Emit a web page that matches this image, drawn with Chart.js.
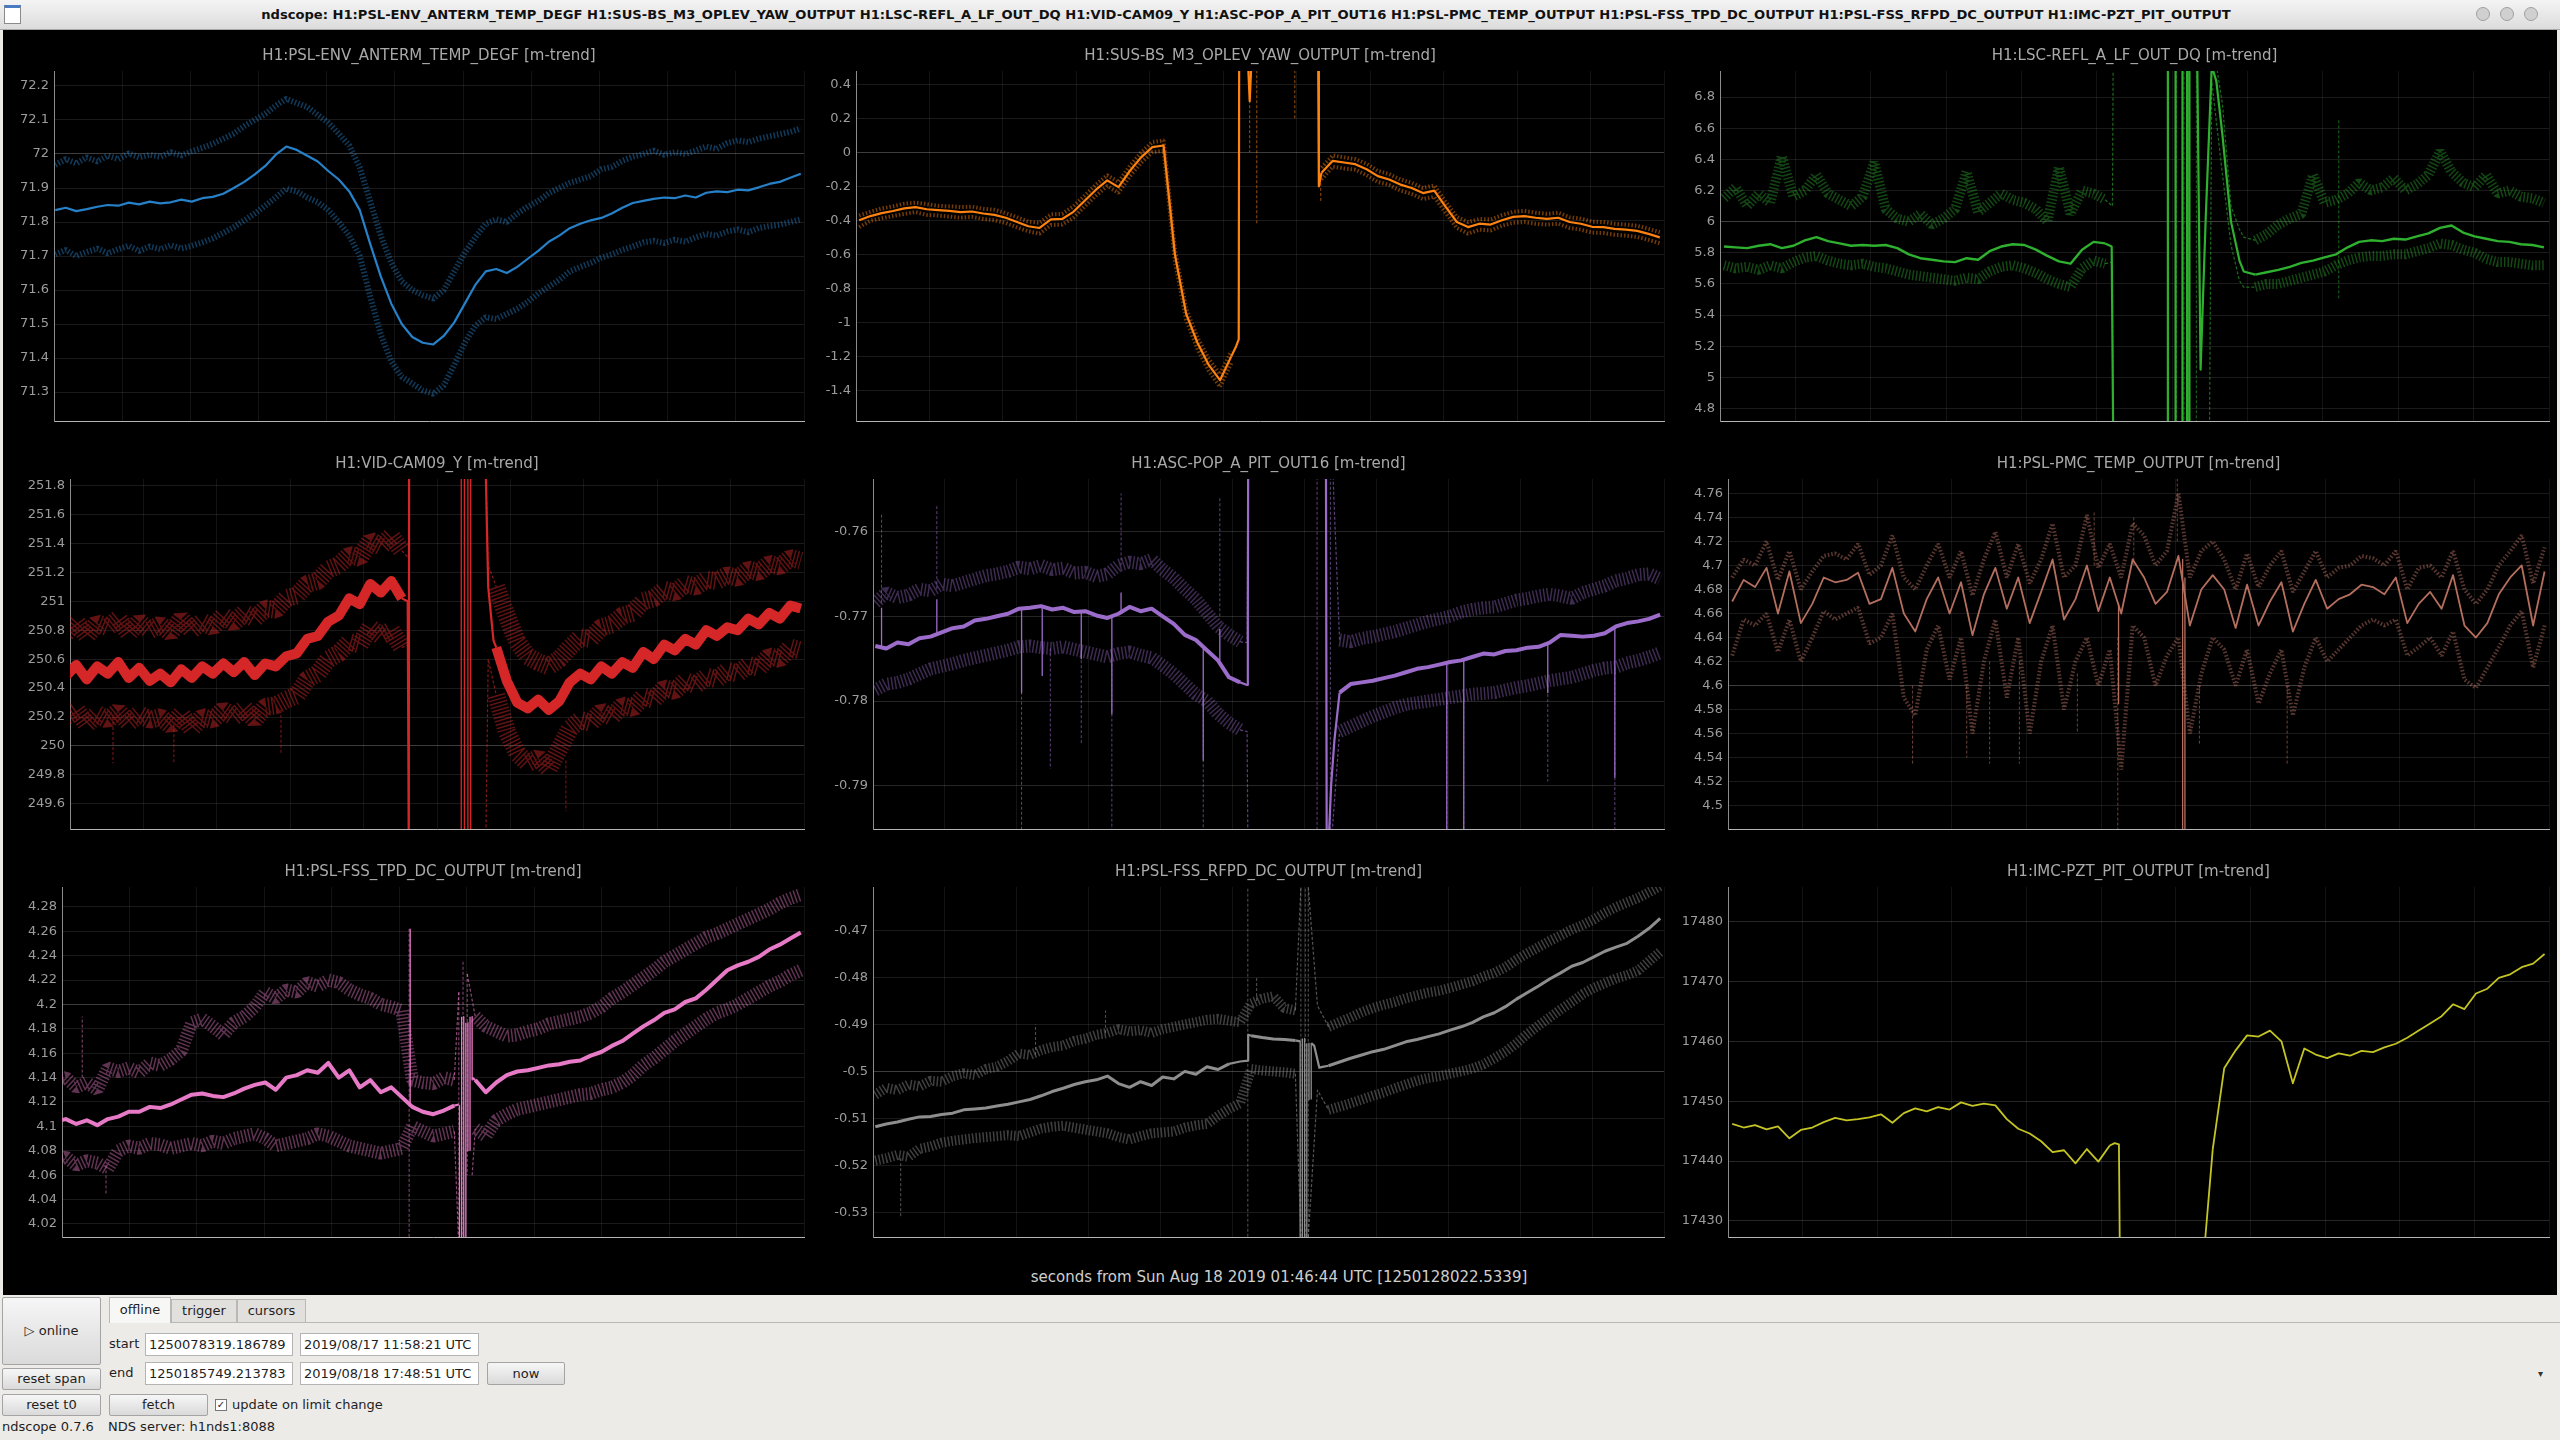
<!DOCTYPE html>
<html>
<head>
<meta charset="utf-8">
<title>ndscope</title>
<script src="https://cdn.jsdelivr.net/npm/chart.js@4.4.0/dist/chart.umd.min.js"></script>
<style>
  body { margin: 0; width: 2560px; height: 1440px; overflow: hidden; position: relative;
         background: #edebe8; font-family: 'DejaVu Sans', sans-serif; font-size: 13px; color: #1e1e1e; }
  .abs { position: absolute; }
  #titlebar { left: 0; top: 0; width: 2560px; height: 29px; background: linear-gradient(#f4f4f4, #dcdcdc);
              border-bottom: 1px solid #a9a9a9; }
  #titletext { left: 0; top: 0; width: 2492px; height: 29px; line-height: 29px; text-align: center;
               font-weight: bold; font-size: 13.1px; color: #111; white-space: nowrap; }
  #scope { left: 3px; top: 30px; width: 2554px; height: 1265px; background: #000; }
  #xlabel { left: 0; top: 1268px; width: 2558px; text-align: center; font-size: 15px; color: #cfcfcf; }
  .btn { background: linear-gradient(#f6f6f6, #dadada); border: 1px solid #a4a4a4; border-radius: 2px;
         text-align: center; box-sizing: border-box; }
  .inp { background: #fff; border: 1px solid #b4b4b4; box-sizing: border-box; padding-left: 3px; }
  .tab { border: 1px solid #b8b8b8; border-bottom: none; box-sizing: border-box; text-align: center;
         background: #e2e0dd; }
</style>
</head>
<body>
<div id="titlebar" class="abs"></div>
<div class="abs" style="left:4px;top:5px;width:17px;height:19px;border:1px solid #8a8a8a;background:#fff;box-sizing:border-box;border-top:3px solid #4a7bc0;"></div>
<div id="titletext" class="abs">ndscope: H1:PSL-ENV_ANTERM_TEMP_DEGF H1:SUS-BS_M3_OPLEV_YAW_OUTPUT H1:LSC-REFL_A_LF_OUT_DQ H1:VID-CAM09_Y H1:ASC-POP_A_PIT_OUT16 H1:PSL-PMC_TEMP_OUTPUT H1:PSL-FSS_TPD_DC_OUTPUT H1:PSL-FSS_RFPD_DC_OUTPUT H1:IMC-PZT_PIT_OUTPUT</div>
<div class="abs" style="left:2476px;top:7px;width:14px;height:14px;border-radius:7px;background:#d0d0d0;border:1px solid #a0a0a0;box-sizing:border-box;"></div>
<div class="abs" style="left:2500px;top:7px;width:14px;height:14px;border-radius:7px;background:#d0d0d0;border:1px solid #a0a0a0;box-sizing:border-box;"></div>
<div class="abs" style="left:2524px;top:7px;width:14px;height:14px;border-radius:7px;background:#d0d0d0;border:1px solid #a0a0a0;box-sizing:border-box;"></div>
<div id="scope" class="abs"></div>
<div id="xlabel" class="abs">seconds from Sun Aug 18 2019 01:46:44 UTC [1250128022.5339]</div>

<div class="abs btn" style="left:2px;top:1297px;width:99px;height:68px;line-height:66px;">&#9655; online</div>
<div class="abs btn" style="left:2px;top:1368px;width:99px;height:22px;line-height:20px;">reset span</div>
<div class="abs btn" style="left:2px;top:1394px;width:99px;height:22px;line-height:20px;">reset t0</div>
<div class="abs" style="left:109px;top:1322px;width:2451px;height:1px;background:#b8b8b8;"></div>
<div class="abs tab" style="left:109px;top:1297px;width:62px;height:26px;line-height:24px;background:#f7f7f6;">offline</div>
<div class="abs tab" style="left:171px;top:1299px;width:66px;height:23px;line-height:22px;">trigger</div>
<div class="abs tab" style="left:237px;top:1299px;width:69px;height:23px;line-height:22px;">cursors</div>
<div class="abs" style="left:109px;top:1336px;">start</div>
<div class="abs inp" style="left:145px;top:1333px;width:148px;height:23px;line-height:21px;">1250078319.186789</div>
<div class="abs inp" style="left:300px;top:1333px;width:179px;height:23px;line-height:21px;">2019/08/17 11:58:21 UTC</div>
<div class="abs" style="left:109px;top:1365px;">end</div>
<div class="abs inp" style="left:145px;top:1362px;width:148px;height:23px;line-height:21px;">1250185749.213783</div>
<div class="abs inp" style="left:300px;top:1362px;width:179px;height:23px;line-height:21px;">2019/08/18 17:48:51 UTC</div>
<div class="abs btn" style="left:487px;top:1362px;width:78px;height:23px;line-height:21px;">now</div>
<div class="abs btn" style="left:109px;top:1394px;width:99px;height:22px;line-height:20px;">fetch</div>
<div class="abs" style="left:215px;top:1399px;width:12px;height:12px;border:1px solid #777;background:#fff;box-sizing:border-box;font-size:10px;line-height:10px;text-align:center;">&#10003;</div>
<div class="abs" style="left:232px;top:1397px;">update on limit change</div>
<div class="abs" style="left:2px;top:1419px;">ndscope 0.7.6</div>
<div class="abs" style="left:108px;top:1419px;">NDS server: h1nds1:8088</div>
<div class="abs" style="left:2538px;top:1368px;font-size:10px;color:#333;">&#9662;</div>

<script>
// shared minute-trend sample times (s from t0)
const tGrid = [
  -53250, -51750, -50250, -48750, -47250, -45750, -44250, -42750, -41250, -39750,
  -38250, -36750, -35250, -33750, -32250, -30750, -29250, -27750, -26250, -24750,
  -23250, -21750, -20250, -18750, -17250, -15750, -14250, -12750, -11250, -9750,
  -8250, -6750, -5250, -3750, -2250, -750, 750, 2250, 3750, 5250,
  6750, 8250, 9750, 11250, 12750, 14250, 15750, 17250, 18750, 20250,
  21750, 23250, 24750, 26250, 27750, 29250, 30750, 32250, 33750, 35250,
  36750, 38250, 39750, 41250, 42750, 44250, 45750, 47250, 48750, 50250,
  51750, 53250];

// H1:PSL-ENV_ANTERM_TEMP_DEGF
const anterMean = [
  71.835, 71.842, 71.832, 71.838, 71.845, 71.850, 71.848, 71.857, 71.852, 71.860,
  71.855, 71.858, 71.866, 71.860, 71.870, 71.874, 71.883, 71.900, 71.918, 71.940,
  71.965, 71.998, 72.022, 72.012, 71.995, 71.978, 71.950, 71.925, 71.890, 71.835,
  71.735, 71.640, 71.560, 71.500, 71.462, 71.445, 71.440, 71.465, 71.505, 71.560,
  71.615, 71.655, 71.662, 71.650, 71.668, 71.692, 71.715, 71.742, 71.760, 71.782,
  71.795, 71.805, 71.812, 71.825, 71.842, 71.856, 71.862, 71.868, 71.872, 71.870,
  71.878, 71.872, 71.886, 71.890, 71.888, 71.895, 71.893, 71.902, 71.912, 71.918,
  71.930, 71.942];
const anterMax = [
  71.968, 71.985, 71.972, 71.990, 71.978, 71.995, 71.985, 72.002, 71.990, 71.998,
  71.992, 72.005, 71.996, 72.008, 72.018, 72.030, 72.045, 72.060, 72.082, 72.100,
  72.118, 72.142, 72.162, 72.150, 72.138, 72.115, 72.092, 72.060, 72.025, 71.960,
  71.860, 71.760, 71.680, 71.625, 71.600, 71.585, 71.575, 71.600, 71.655, 71.710,
  71.755, 71.795, 71.808, 71.800, 71.825, 71.845, 71.862, 71.885, 71.900, 71.915,
  71.925, 71.935, 71.955, 71.962, 71.980, 71.992, 72.000, 72.010, 71.998, 72.005,
  72.000, 72.010, 72.022, 72.015, 72.032, 72.040, 72.035, 72.045, 72.052, 72.058,
  72.065, 72.075];
const anterMin = [
  71.705, 71.718, 71.700, 71.712, 71.722, 71.708, 71.720, 71.730, 71.715, 71.728,
  71.720, 71.732, 71.722, 71.730, 71.740, 71.752, 71.768, 71.785, 71.805, 71.825,
  71.848, 71.872, 71.898, 71.890, 71.872, 71.858, 71.835, 71.800, 71.760, 71.700,
  71.580, 71.470, 71.390, 71.345, 71.325, 71.305, 71.295, 71.320, 71.380, 71.445,
  71.495, 71.520, 71.515, 71.530, 71.545, 71.565, 71.590, 71.610, 71.630, 71.655,
  71.668, 71.680, 71.695, 71.705, 71.718, 71.728, 71.740, 71.745, 71.738, 71.748,
  71.742, 71.755, 71.765, 71.760, 71.772, 71.778, 71.770, 71.782, 71.788, 71.792,
  71.800, 71.808];

// H1:SUS-BS_M3_OPLEV_YAW_OUTPUT
const yawMean = [
  -0.400, -0.375, -0.358, -0.345, -0.330, -0.322, -0.335, -0.340, -0.345, -0.352,
  -0.348, -0.360, -0.368, -0.385, -0.410, -0.435, -0.445, -0.395, -0.392, -0.350,
  -0.285, -0.220, -0.165, -0.205, -0.110, -0.030, 0.030, 0.040, -0.600, -0.950,
  -1.120, -1.250, -1.340, -1.200, null, null, null, null, null, null,
  null, -0.120, -0.050, -0.060, -0.070, -0.100, -0.140, -0.160, -0.190, -0.210,
  -0.240, -0.225, -0.320, -0.410, -0.440, -0.420, -0.425, -0.400, -0.380, -0.375,
  -0.385, -0.392, -0.385, -0.410, -0.420, -0.438, -0.440, -0.450, -0.455, -0.462,
  -0.480, -0.500];
const yawMax = [
  -0.372, -0.350, -0.330, -0.318, -0.302, -0.296, -0.305, -0.315, -0.318, -0.322,
  -0.320, -0.332, -0.338, -0.358, -0.382, -0.408, -0.415, -0.365, -0.362, -0.318,
  -0.255, -0.190, -0.135, -0.175, -0.080, -0.002, 0.060, 0.070, -0.570, -0.920,
  -1.090, -1.215, -1.305, -1.170, null, null, null, null, null, null,
  null, -0.090, -0.018, -0.030, -0.040, -0.068, -0.110, -0.128, -0.160, -0.180,
  -0.210, -0.195, -0.290, -0.380, -0.410, -0.392, -0.395, -0.370, -0.350, -0.345,
  -0.355, -0.362, -0.355, -0.382, -0.390, -0.408, -0.410, -0.420, -0.425, -0.432,
  -0.450, -0.470];
const yawMin = [
  -0.440, -0.402, -0.388, -0.375, -0.362, -0.352, -0.368, -0.372, -0.378, -0.385,
  -0.380, -0.392, -0.400, -0.415, -0.442, -0.465, -0.478, -0.428, -0.425, -0.385,
  -0.318, -0.255, -0.198, -0.238, -0.142, -0.062, 0.000, 0.010, -0.640, -0.985,
  -1.155, -1.285, -1.380, -1.240, null, null, null, null, null, null,
  null, -0.160, -0.085, -0.095, -0.102, -0.135, -0.175, -0.192, -0.225, -0.245,
  -0.275, -0.262, -0.355, -0.445, -0.478, -0.455, -0.460, -0.432, -0.415, -0.410,
  -0.420, -0.425, -0.420, -0.445, -0.455, -0.472, -0.475, -0.485, -0.490, -0.498,
  -0.515, -0.535];
const yawEdgeT = [-3750, -3100, -2760, -2700, -2700, -1600, -1300, -1000, -1000, 7800, 7900, 8250];
const yawEdgeY = [-1.200, -1.140, -1.100, 0.600, null, 0.600, 0.300, 0.600, null, 0.600, -0.200, -0.120];
const yawDashT = [-1300, -360, 4700, 8150];
const yawDashFrom = [0.600, 0.600, 0.600, -0.180];
const yawDashTo = [0.000, -0.420, 0.200, -0.290];

// H1:LSC-REFL_A_LF_OUT_DQ
const reflMean = [
  5.840, 5.835, 5.830, 5.845, 5.855, 5.830, 5.845, 5.880, 5.900, 5.875,
  5.860, 5.845, 5.850, 5.845, 5.850, 5.830, 5.790, 5.765, 5.755, 5.745,
  5.740, 5.765, 5.755, 5.810, 5.840, 5.855, 5.850, 5.820, 5.780, 5.745,
  5.730, 5.820, 5.870, 5.860, null, null, null, null, null, null,
  null, null, null, null, null, null, 5.660, 5.675, 5.690, 5.710,
  5.735, 5.750, 5.770, 5.790, 5.835, 5.870, 5.880, 5.875, 5.890, 5.885,
  5.905, 5.925, 5.960, 5.975, 5.930, 5.905, 5.890, 5.875, 5.870, 5.855,
  5.850, 5.835];
const reflMax = [
  6.15, 6.22, 6.10, 6.18, 6.12, 6.42, 6.16, 6.20, 6.30, 6.18,
  6.14, 6.10, 6.16, 6.38, 6.08, 6.02, 6.00, 6.05, 5.98, 6.02,
  6.08, 6.32, 6.06, 6.12, 6.18, 6.14, 6.12, 6.08, 6.00, 6.35,
  6.05, 6.20, 6.18, 6.14, null, null, null, null, null, null,
  null, null, null, null, null, null, 5.88, 5.92, 5.98, 6.02,
  6.05, 6.30, 6.12, 6.14, 6.18, 6.25, 6.20, 6.22, 6.28, 6.20,
  6.24, 6.30, 6.45, 6.32, 6.25, 6.22, 6.30, 6.18, 6.20, 6.16,
  6.15, 6.12];
const reflMin = [
  5.72, 5.70, 5.71, 5.69, 5.72, 5.70, 5.74, 5.77, 5.78, 5.75,
  5.73, 5.72, 5.73, 5.71, 5.70, 5.68, 5.66, 5.65, 5.64, 5.63,
  5.62, 5.64, 5.63, 5.68, 5.71, 5.72, 5.70, 5.67, 5.63, 5.60,
  5.58, 5.70, 5.75, 5.73, null, null, null, null, null, null,
  null, null, null, null, null, null, 5.58, 5.60, 5.60, 5.62,
  5.64, 5.66, 5.68, 5.72, 5.75, 5.77, 5.78, 5.78, 5.79, 5.79,
  5.81, 5.83, 5.86, 5.85, 5.82, 5.80, 5.76, 5.74, 5.74, 5.73,
  5.72, 5.72];
const reflEdgeT = [-3750, -2900, -2700, -2700, 4400, 4400, 4400, 5400, 5400, 5400, 6300, 6300, 6300, 6900,
  6900, 7200, 7200, 7200, 8200, 8650, 9300, 10100, 10700, 11500, 12600, 13700, 14250, 15750];
const reflEdgeY = [5.86, 5.84, 4.60, null, 4.60, 7.10, null, 7.10, 4.60, null, 4.60, 7.10, null, 7.10,
  4.60, 4.60, 7.10, null, 7.10, 5.05, 6.00, 7.00, 6.90, 6.55, 6.00, 5.75, 5.68, 5.66];
const reflBandT = [-3750, -2800, -2700, -2700, -3750, -2800, -2700, -2700, 10400, 11500, 12600,
  13700, 14250, 15750, 15750, 9800, 10100, 11500, 12600, 13700, 14250, 15750];
const reflBandY = [6.14, 6.10, 7.10, null, 5.73, 5.74, 4.60, null, 7.10, 6.75, 6.10,
  5.95, 5.90, 5.88, null, 4.60, 6.90, 6.30, 5.85, 5.62, 5.58, 5.58];
const reflDashT = [4500, 5500, 6500, 8100, 26600];
const reflDashFrom = [4.60, 7.10, 4.60, 7.10, 6.65];
const reflDashTo = [7.10, 4.60, 7.10, 4.60, 5.50];

// H1:VID-CAM09_Y
const camMean = [
  250.50, 250.48, 250.56, 250.46, 250.55, 250.50, 250.58, 250.47, 250.54, 250.45,
  250.50, 250.44, 250.53, 250.47, 250.55, 250.50, 250.57, 250.51, 250.58, 250.49,
  250.57, 250.55, 250.62, 250.64, 250.74, 250.76, 250.86, 250.90, 251.02, 250.98,
  251.12, 251.06, 251.14, 251.02, null, null, null, null, null, null,
  null, null, 250.68, 250.45, 250.30, 250.26, 250.32, 250.25, 250.31, 250.44,
  250.50, 250.46, 250.55, 250.50, 250.58, 250.54, 250.65, 250.60, 250.70, 250.66,
  250.74, 250.70, 250.80, 250.76, 250.82, 250.80, 250.88, 250.84, 250.92, 250.88,
  250.97, 250.95];
const camMax = [
  250.80, 250.78, 250.86, 250.76, 250.85, 250.82, 250.88, 250.78, 250.86, 250.80,
  250.84, 250.78, 250.88, 250.80, 250.86, 250.82, 250.90, 250.85, 250.92, 250.88,
  250.95, 250.94, 251.02, 251.04, 251.12, 251.14, 251.22, 251.25, 251.32, 251.30,
  251.42, 251.38, 251.45, 251.35, null, null, null, null, null, null,
  null, null, 251.10, 250.90, 250.72, 250.62, 250.58, 250.55, 250.60, 250.68,
  250.75, 250.74, 250.82, 250.84, 250.90, 250.92, 251.00, 251.02, 251.08, 251.06,
  251.12, 251.10, 251.15, 251.14, 251.18, 251.16, 251.22, 251.20, 251.26, 251.24,
  251.30, 251.28];
const camMin = [
  250.22, 250.20, 250.25, 250.15, 250.22, 250.18, 250.24, 250.16, 250.22, 250.18,
  250.20, 250.14, 250.22, 250.12, 250.20, 250.18, 250.25, 250.20, 250.26, 250.18,
  250.27, 250.28, 250.32, 250.35, 250.46, 250.50, 250.60, 250.64, 250.72, 250.70,
  250.82, 250.76, 250.80, 250.68, null, null, null, null, null, null,
  null, null, 250.35, 250.10, 249.95, 249.88, 249.92, 249.84, 249.98, 250.12,
  250.18, 250.16, 250.24, 250.20, 250.28, 250.26, 250.34, 250.32, 250.40, 250.38,
  250.45, 250.42, 250.48, 250.46, 250.52, 250.50, 250.56, 250.54, 250.62, 250.60,
  250.68, 250.66];
const camEdgeT = [-3750, -2900, -2750, -2700, -2700, 8200, 8600, 9350, 9750];
const camEdgeY = [251.02, 251.00, 249.30, 252.00, null, 252.00, 251.10, 250.73, 250.68];
const camSolidT = [4750, 5200, 5700, 6100];
const camSolidFrom = [249.30, 252.00, 249.30, 252.00];
const camSolidTo = [252.00, 249.30, 252.00, 249.30];
const camBandT = [-3750, -2800, -2700, -2700, -3750, -2800, -2700, -2700, 8250, 8600, 9750, 9750, 8250, 8600, 9750];
const camBandY = [251.35, 251.30, 252.00, null, 250.68, 250.70, 249.30, null, 252.00, 251.25, 251.10, null, 249.30, 250.60, 250.35];
const camDashT = [-45000, -36300, -21000, 19700];
const camDashFrom = [250.20, 250.15, 250.25, 249.90];
const camDashTo = [249.88, 249.88, 249.95, 249.55];

// H1:ASC-POP_A_PIT_OUT16
const popMean = [
  -0.7735, -0.7738, -0.7731, -0.7733, -0.7726, -0.7724, -0.7719, -0.7714, -0.7712, -0.7705,
  -0.7703, -0.7700, -0.7697, -0.7691, -0.7690, -0.7688, -0.7692, -0.7690, -0.7695, -0.7694,
  -0.7699, -0.7702, -0.7697, -0.7689, -0.7694, -0.7691, -0.7700, -0.7709, -0.7722, -0.7728,
  -0.7740, -0.7752, -0.7772, -0.7778, null, null, null, null, null, null,
  null, null, -0.7790, -0.7780, -0.7778, -0.7776, -0.7773, -0.7770, -0.7766, -0.7762,
  -0.7760, -0.7757, -0.7754, -0.7752, -0.7748, -0.7744, -0.7745, -0.7741, -0.7740, -0.7737,
  -0.7736, -0.7731, -0.7722, -0.7723, -0.7724, -0.7723, -0.7720, -0.7712, -0.7708, -0.7706,
  -0.7703, -0.7698];
const popMax = [
  -0.7684, -0.7672, -0.7678, -0.7675, -0.7668, -0.7670, -0.7662, -0.7664, -0.7660, -0.7656,
  -0.7652, -0.7650, -0.7647, -0.7642, -0.7644, -0.7640, -0.7645, -0.7643, -0.7649, -0.7648,
  -0.7653, -0.7650, -0.7640, -0.7636, -0.7638, -0.7633, -0.7645, -0.7655, -0.7668, -0.7680,
  -0.7696, -0.7712, -0.7722, -0.7730, null, null, null, null, null, null,
  null, null, -0.7728, -0.7730, -0.7726, -0.7724, -0.7721, -0.7718, -0.7714, -0.7710,
  -0.7706, -0.7703, -0.7700, -0.7695, -0.7692, -0.7690, -0.7689, -0.7685, -0.7681, -0.7679,
  -0.7676, -0.7674, -0.7676, -0.7679, -0.7672, -0.7668, -0.7664, -0.7658, -0.7655, -0.7651,
  -0.7650, -0.7656];
const popMin = [
  -0.7787, -0.7780, -0.7778, -0.7774, -0.7768, -0.7762, -0.7759, -0.7756, -0.7752, -0.7749,
  -0.7746, -0.7743, -0.7740, -0.7736, -0.7735, -0.7737, -0.7738, -0.7736, -0.7739, -0.7742,
  -0.7745, -0.7748, -0.7744, -0.7742, -0.7746, -0.7749, -0.7758, -0.7768, -0.7780, -0.7792,
  -0.7800, -0.7815, -0.7826, -0.7834, null, null, null, null, null, null,
  null, null, -0.7836, -0.7830, -0.7824, -0.7818, -0.7813, -0.7808, -0.7804, -0.7802,
  -0.7800, -0.7798, -0.7796, -0.7794, -0.7792, -0.7791, -0.7790, -0.7787, -0.7784, -0.7782,
  -0.7779, -0.7776, -0.7774, -0.7772, -0.7768, -0.7764, -0.7761, -0.7760, -0.7755, -0.7752,
  -0.7748, -0.7743];
const popEdgeT = [-3750, -2800, -2700, -2650, -2650, 7900, 8000, 8300, 8600, 9050, 9750];
const popEdgeY = [-0.7778, -0.7781, -0.7700, -0.7500, null, -0.7500, -0.7960, -0.7960, -0.7900, -0.7846, -0.7790];
const popSolidT = [-52400, -44900, -33400, -30600, -25300, -21150, -19900, -8750, -6500, 24300, 26600, 38000, 47100];
const popSolidFrom = [-0.7738, -0.7722, -0.7691, -0.7688, -0.7694, -0.7700, -0.7694, -0.7737, -0.7752, -0.7754, -0.7752, -0.7732, -0.7712];
const popSolidTo = [-0.7690, -0.7680, -0.7790, -0.7770, -0.7750, -0.7815, -0.7672, -0.7870, -0.7715, -0.7960, -0.7960, -0.7790, -0.7890];
const popBandT = [-3750, -2800, -2700, -2700, -3750, -2800, -2700, -2700, 8700, 9750, 9750, 8700, 9750];
const popBandY = [-0.7730, -0.7731, -0.7500, null, -0.7834, -0.7836, -0.7960, null, -0.7500, -0.7728, null, -0.7960, -0.7836];
const popDashT = [-52400, -44900, -33400, -29500, -25300, -21150, -19900, -8750, -6500, 6700, 8500, 24300, 26600, 38000, 47100];
const popDashFrom = [-0.7684, -0.7668, -0.7736, -0.7738, -0.7740, -0.7750, -0.7640, -0.7792, -0.7700, -0.7500, -0.7500, -0.7800, -0.7800, -0.7780, -0.7760];
const popDashTo = [-0.7580, -0.7570, -0.7960, -0.7880, -0.7850, -0.7960, -0.7555, -0.7960, -0.7560, -0.7960, -0.7960, -0.7960, -0.7960, -0.7895, -0.7960];

// H1:PSL-PMC_TEMP_OUTPUT
const pmcMean = [
  4.670, 4.688, 4.682, 4.698, 4.660, 4.695, 4.652, 4.668, 4.690, 4.686,
  4.688, 4.694, 4.668, 4.672, 4.698, 4.660, 4.645, 4.672, 4.690, 4.660,
  4.686, 4.642, 4.676, 4.698, 4.664, 4.690, 4.652, 4.678, 4.705, 4.655,
  4.672, 4.700, 4.662, 4.690, 4.660, 4.705, 4.690, 4.668, 4.678, 4.708,
  4.650, 4.680, 4.692, 4.680, 4.648, 4.684, 4.650, 4.670, 4.686, 4.645,
  4.668, 4.688, 4.664, 4.672, 4.676, 4.684, 4.682, 4.676, 4.690, 4.652,
  4.668, 4.678, 4.664, 4.692, 4.650, 4.640, 4.652, 4.676, 4.690, 4.700,
  4.650, 4.695];
const pmcMax = [
  4.690, 4.705, 4.700, 4.720, 4.688, 4.712, 4.680, 4.695, 4.708, 4.710,
  4.705, 4.718, 4.692, 4.700, 4.725, 4.690, 4.680, 4.700, 4.718, 4.690,
  4.712, 4.675, 4.705, 4.728, 4.690, 4.718, 4.685, 4.705, 4.735, 4.690,
  4.700, 4.742, 4.698, 4.718, 4.690, 4.735, 4.725, 4.700, 4.712, 4.760,
  4.690, 4.712, 4.720, 4.705, 4.680, 4.710, 4.682, 4.700, 4.712, 4.678,
  4.695, 4.712, 4.690, 4.698, 4.700, 4.708, 4.706, 4.700, 4.712, 4.680,
  4.698, 4.700, 4.690, 4.712, 4.680, 4.668, 4.680, 4.700, 4.712, 4.725,
  4.685, 4.715];
const pmcMin = [
  4.625, 4.655, 4.650, 4.660, 4.628, 4.655, 4.620, 4.640, 4.662, 4.655,
  4.660, 4.665, 4.635, 4.640, 4.660, 4.590, 4.575, 4.630, 4.650, 4.605,
  4.640, 4.560, 4.620, 4.655, 4.590, 4.640, 4.560, 4.620, 4.650, 4.580,
  4.620, 4.640, 4.600, 4.630, 4.530, 4.650, 4.640, 4.600, 4.625, 4.640,
  4.560, 4.610, 4.640, 4.630, 4.600, 4.630, 4.585, 4.610, 4.630, 4.575,
  4.615, 4.640, 4.620, 4.630, 4.640, 4.650, 4.655, 4.650, 4.655, 4.625,
  4.632, 4.640, 4.625, 4.645, 4.605, 4.598, 4.615, 4.632, 4.650, 4.662,
  4.615, 4.650];
const pmcSolidT = [-2600, 5800, 6100];
const pmcSolidFrom = [4.668, 4.705, 4.470];
const pmcSolidTo = [4.585, 4.470, 4.690];
const pmcDashT = [-29600, -22500, -19500, -15600, -8000, -5800, -2700, -600, 5100, 8000, 19500];
const pmcDashFrom = [4.600, 4.600, 4.620, 4.620, 4.610, 4.700, 4.640, 4.700, 4.720, 4.600, 4.600];
const pmcDashTo = [4.535, 4.540, 4.535, 4.535, 4.560, 4.745, 4.470, 4.740, 4.772, 4.550, 4.535];

// H1:PSL-FSS_TPD_DC_OUTPUT
const tpdMean = [
  4.104, 4.106, 4.102, 4.105, 4.101, 4.106, 4.108, 4.112, 4.112, 4.116,
  4.115, 4.118, 4.122, 4.126, 4.127, 4.125, 4.124, 4.127, 4.131, 4.134,
  4.136, 4.130, 4.140, 4.142, 4.146, 4.144, 4.152, 4.140, 4.146, 4.132,
  4.138, 4.128, 4.132, 4.124, 4.116, 4.112, 4.110, 4.113, 4.117, null,
  4.138, 4.128, 4.136, 4.142, 4.145, 4.146, 4.148, 4.150, 4.151, 4.153,
  4.154, 4.158, 4.161, 4.166, 4.170, 4.176, 4.182, 4.187, 4.193, 4.196,
  4.202, 4.205, 4.212, 4.220, 4.228, 4.232, 4.235, 4.239, 4.245, 4.249,
  4.254, 4.259];
const tpdMax = [
  4.138, 4.140, 4.132, 4.136, 4.130, 4.148, 4.145, 4.148, 4.144, 4.152,
  4.150, 4.155, 4.162, 4.185, 4.188, 4.182, 4.175, 4.185, 4.190, 4.198,
  4.210, 4.205, 4.212, 4.210, 4.218, 4.215, 4.220, 4.218, 4.212, 4.208,
  4.205, 4.200, 4.198, 4.195, 4.138, 4.136, 4.135, 4.140, 4.138, null,
  4.190, 4.182, 4.178, 4.174, 4.175, 4.178, 4.180, 4.184, 4.186, 4.188,
  4.190, 4.193, 4.198, 4.205, 4.210, 4.216, 4.222, 4.228, 4.235, 4.240,
  4.245, 4.250, 4.255, 4.258, 4.262, 4.266, 4.270, 4.274, 4.278, 4.283,
  4.287, 4.290];
const tpdMin = [
  4.072, 4.075, 4.068, 4.072, 4.070, 4.065, 4.080, 4.084, 4.082, 4.086,
  4.085, 4.082, 4.084, 4.086, 4.084, 4.088, 4.086, 4.090, 4.092, 4.094,
  4.090, 4.084, 4.086, 4.088, 4.090, 4.094, 4.092, 4.088, 4.084, 4.082,
  4.080, 4.078, 4.080, 4.082, 4.100, 4.096, 4.092, 4.094, 4.096, null,
  4.098, 4.092, 4.105, 4.110, 4.114, 4.116, 4.118, 4.120, 4.122, 4.124,
  4.126, 4.127, 4.130, 4.132, 4.136, 4.142, 4.150, 4.156, 4.163, 4.170,
  4.176, 4.182, 4.188, 4.193, 4.196, 4.200, 4.205, 4.210, 4.215, 4.219,
  4.224, 4.228];
const tpdEdgeT = [3750, 4400, 4400, 6300, 6750];
const tpdEdgeY = [4.117, 4.118, null, 4.140, 4.138];
const tpdSolidT = [-2550, 4500, 4800, 5100, 5400, 5700, 6000, 6300];
const tpdSolidFrom = [4.116, 4.117, 4.000, 4.190, 4.000, 4.185, 4.080, 4.190];
const tpdSolidTo = [4.262, 4.000, 4.190, 4.000, 4.185, 4.080, 4.190, 4.138];
const tpdBandT = [3750, 4400, 4400, 5600, 6750, 6750, 3750, 4400, 4400, 6300, 6750];
const tpdBandY = [4.138, 4.210, null, 4.225, 4.190, null, 4.096, 4.000, null, 4.060, 4.098];
const tpdDashT = [-49400, -46000, -2700, 4400, 5000, 5600];
const tpdDashFrom = [4.140, 4.068, 4.262, 4.210, 4.235, 4.225];
const tpdDashTo = [4.190, 4.045, 4.000, 4.000, 4.000, 4.060];

// H1:PSL-FSS_RFPD_DC_OUTPUT
const rfpdMean = [
  -0.5118, -0.5112, -0.5108, -0.5102, -0.5097, -0.5096, -0.5092, -0.5089, -0.5082, -0.5080,
  -0.5078, -0.5074, -0.5070, -0.5065, -0.5060, -0.5052, -0.5043, -0.5036, -0.5028, -0.5022,
  -0.5018, -0.5010, -0.5026, -0.5034, -0.5022, -0.5030, -0.5012, -0.5016, -0.5000, -0.5006,
  -0.4990, -0.4996, -0.4984, null, -0.4924, -0.4928, -0.4931, -0.4932, -0.4934, null,
  null, -0.4988, -0.4980, -0.4972, -0.4965, -0.4958, -0.4953, -0.4945, -0.4937, -0.4932,
  -0.4926, -0.4920, -0.4912, -0.4905, -0.4896, -0.4884, -0.4875, -0.4862, -0.4846, -0.4832,
  -0.4818, -0.4803, -0.4790, -0.4776, -0.4768, -0.4756, -0.4744, -0.4735, -0.4727, -0.4712,
  -0.4695, -0.4674];
const rfpdMax = [
  -0.5050, -0.5035, -0.5040, -0.5028, -0.5032, -0.5020, -0.5022, -0.5010, -0.5004, -0.5008,
  -0.4995, -0.4990, -0.4978, -0.4962, -0.4965, -0.4955, -0.4948, -0.4945, -0.4935, -0.4930,
  -0.4922, -0.4918, -0.4910, -0.4915, -0.4912, -0.4918, -0.4910, -0.4905, -0.4900, -0.4895,
  -0.4890, -0.4888, -0.4892, -0.4895, -0.4855, -0.4845, -0.4840, -0.4865, -0.4870, null,
  null, -0.4905, -0.4895, -0.4885, -0.4874, -0.4865, -0.4858, -0.4852, -0.4844, -0.4838,
  -0.4832, -0.4828, -0.4822, -0.4815, -0.4808, -0.4798, -0.4790, -0.4778, -0.4762, -0.4748,
  -0.4735, -0.4722, -0.4710, -0.4698, -0.4688, -0.4676, -0.4662, -0.4650, -0.4640, -0.4630,
  -0.4618, -0.4605];
const rfpdMin = [
  -0.5190, -0.5185, -0.5178, -0.5182, -0.5165, -0.5160, -0.5152, -0.5148, -0.5145, -0.5142,
  -0.5140, -0.5138, -0.5136, -0.5138, -0.5130, -0.5122, -0.5118, -0.5116, -0.5120, -0.5124,
  -0.5128, -0.5132, -0.5140, -0.5145, -0.5138, -0.5132, -0.5130, -0.5128, -0.5120, -0.5115,
  -0.5112, -0.5095, -0.5080, -0.5068, -0.4995, -0.4998, -0.5000, -0.5002, -0.5005, null,
  null, -0.5082, -0.5075, -0.5068, -0.5060, -0.5052, -0.5045, -0.5036, -0.5028, -0.5020,
  -0.5014, -0.5010, -0.5005, -0.5000, -0.4994, -0.4985, -0.4972, -0.4958, -0.4940, -0.4920,
  -0.4902, -0.4885, -0.4868, -0.4852, -0.4835, -0.4822, -0.4812, -0.4802, -0.4795, -0.4785,
  -0.4765, -0.4745];
const rfpdEdgeT = [-5250, -3750, -2650, -2650, -2250, -2250, 3750, 4400, 4400, 5900, 6300, 7000, 7600, 8250];
const rfpdEdgeY = [-0.4984, -0.4979, -0.4977, -0.4922, -0.4924, null, -0.4934, -0.4936, null, -0.4940, -0.4945, -0.4992, -0.4990, -0.4988];
const rfpdSolidT = [4400, 4700, 5000, 5300, 5600, 5900];
const rfpdSolidFrom = [-0.4936, -0.5360, -0.4930, -0.5360, -0.4940, -0.5060];
const rfpdSolidTo = [-0.5360, -0.4930, -0.5360, -0.4940, -0.5060, -0.4940];
const rfpdBandT = [3750, 4500, 4500, 5500, 6750, 8250, 8250, 3750, 4500, 4500, 5500, 6750, 8250];
const rfpdBandY = [-0.4870, -0.4607, null, -0.4607, -0.4860, -0.4905, null, -0.5005, -0.5353, null, -0.5353, -0.5040, -0.5082];
const rfpdDashT = [-49800, -31500, -22000, -2700, -1500, 4500, 5100, 5500];
const rfpdDashFrom = [-0.5185, -0.4965, -0.4918, -0.4600, -0.4850, -0.4600, -0.4600, -0.4600];
const rfpdDashTo = [-0.5310, -0.4900, -0.4870, -0.5360, -0.4800, -0.5360, -0.5360, -0.5360];

// H1:IMC-PZT_PIT_OUTPUT
const pztMean = [
  17446.2, 17445.6, 17446.0, 17445.3, 17445.8, 17443.8, 17445.2, 17445.6, 17446.5, 17447.2,
  17446.8, 17447.0, 17447.3, 17447.8, 17446.4, 17448.0, 17448.8, 17448.3, 17449.0, 17448.6,
  17449.8, 17449.2, 17449.6, 17449.3, 17447.0, 17445.4, 17444.6, 17443.3, 17441.5, 17441.8,
  17439.6, 17442.0, 17439.9, 17442.6, null, null, null, null, null, null,
  null, null, 17442.0, 17455.5, 17458.5, 17461.0, 17460.8, 17461.8, 17460.0, 17453.0,
  17458.8, 17457.8, 17457.2, 17458.0, 17457.6, 17458.4, 17458.2, 17459.0, 17459.6, 17460.6,
  17461.8, 17463.0, 17464.2, 17466.2, 17465.4, 17468.0, 17468.8, 17470.6, 17471.2, 17472.4,
  17473.0, 17474.6];
const pztEdgeT = [-3750, -3100, -2550, -2400, -2400, 8300, 9750];
const pztEdgeY = [17442.6, 17443.0, 17442.8, 17420.0, null, 17420.0, 17442.0];

// panel layout: columns/rows in page pixels
const colLeft = [4, 812, 1676];
const colWidth = [806, 858, 879];
const rowTop = [37, 445, 853];
const panelH = 414;

const panels = [
  { title: 'H1:PSL-ENV_ANTERM_TEMP_DEGF [m-trend]', color: '#2681c9', col: 0, row: 0, axisW: 50,
    meanW: 2.2, bandW: 6, bandA: 0.45,
    x: [-53430, 53710], y: [71.215, 72.244], step: 0.1, dec: 1, major: 72,
    mean: anterMean, max: anterMax, min: anterMin },
  { title: 'H1:SUS-BS_M3_OPLEV_YAW_OUTPUT [m-trend]', color: '#ff8310', col: 1, row: 0, axisW: 44,
    meanW: 2.2, bandW: 4, bandA: 0.45,
    x: [-53670, 53810], y: [-1.58, 0.478], step: 0.2, dec: 1, major: 0,
    mean: yawMean, max: yawMax, min: yawMin, edgeT: yawEdgeT, edgeY: yawEdgeY,
    dashT: yawDashT, dashFrom: yawDashFrom, dashTo: yawDashTo },
  { title: 'H1:LSC-REFL_A_LF_OUT_DQ [m-trend]', color: '#2fb12f', col: 2, row: 0, axisW: 44,
    meanW: 2.4, bandW: 10, bandA: 0.4,
    x: [-53780, 53910], y: [4.72, 6.967], step: 0.2, dec: 1, major: 6,
    mean: reflMean, max: reflMax, min: reflMin, edgeT: reflEdgeT, edgeY: reflEdgeY,
    bandT: reflBandT, bandY: reflBandY, dashT: reflDashT, dashFrom: reflDashFrom, dashTo: reflDashTo },
  { title: 'H1:VID-CAM09_Y [m-trend]', color: '#d62728', col: 0, row: 1, axisW: 66,
    meanW: 10, bandW: 18, bandA: 0.45,
    x: [-51140, 53710], y: [249.426, 251.845], step: 0.2, dec: 1, major: 250,
    mean: camMean, max: camMax, min: camMin, edgeT: camEdgeT, edgeY: camEdgeY,
    solidT: camSolidT, solidFrom: camSolidFrom, solidTo: camSolidTo,
    bandT: camBandT, bandY: camBandY, dashT: camDashT, dashFrom: camDashFrom, dashTo: camDashTo },
  { title: 'H1:ASC-POP_A_PIT_OUT16 [m-trend]', color: '#9c6ccb', col: 1, row: 1, axisW: 61,
    meanW: 4, bandW: 13, bandA: 0.4,
    x: [-53560, 53770], y: [-0.7951, -0.7538], step: 0.01, dec: 2, major: null,
    mean: popMean, max: popMax, min: popMin, edgeT: popEdgeT, edgeY: popEdgeY,
    solidT: popSolidT, solidFrom: popSolidFrom, solidTo: popSolidTo,
    bandT: popBandT, bandY: popBandY, dashT: popDashT, dashFrom: popDashFrom, dashTo: popDashTo },
  { title: 'H1:PSL-PMC_TEMP_OUTPUT [m-trend]', color: '#b56f5f', col: 2, row: 1, axisW: 52,
    meanW: 1.8, bandW: 4, bandA: 0.5,
    x: [-53800, 53830], y: [4.4806, 4.772], step: 0.02, dec: 2, major: 4.6,
    mean: pmcMean, max: pmcMax, min: pmcMin,
    solidT: pmcSolidT, solidFrom: pmcSolidFrom, solidTo: pmcSolidTo,
    dashT: pmcDashT, dashFrom: pmcDashFrom, dashTo: pmcDashTo },
  { title: 'H1:PSL-FSS_TPD_DC_OUTPUT [m-trend]', color: '#e77ac6', col: 0, row: 2, axisW: 58,
    meanW: 4, bandW: 13, bandA: 0.42,
    x: [-52290, 53710], y: [4.0093, 4.2963], step: 0.02, dec: 2, major: 4.2,
    mean: tpdMean, max: tpdMax, min: tpdMin, edgeT: tpdEdgeT, edgeY: tpdEdgeY,
    solidT: tpdSolidT, solidFrom: tpdSolidFrom, solidTo: tpdSolidTo,
    bandT: tpdBandT, bandY: tpdBandY, dashT: tpdDashT, dashFrom: tpdDashFrom, dashTo: tpdDashTo },
  { title: 'H1:PSL-FSS_RFPD_DC_OUTPUT [m-trend]', color: '#8e8e8e', col: 1, row: 2, axisW: 61,
    meanW: 3, bandW: 10, bandA: 0.45,
    x: [-53560, 53770], y: [-0.5353, -0.4607], step: 0.01, dec: 2, major: -0.5,
    mean: rfpdMean, max: rfpdMax, min: rfpdMin, edgeT: rfpdEdgeT, edgeY: rfpdEdgeY,
    solidT: rfpdSolidT, solidFrom: rfpdSolidFrom, solidTo: rfpdSolidTo,
    bandT: rfpdBandT, bandY: rfpdBandY, dashT: rfpdDashT, dashFrom: rfpdDashFrom, dashTo: rfpdDashTo },
  { title: 'H1:IMC-PZT_PIT_OUTPUT [m-trend]', color: '#c4c524', col: 2, row: 2, axisW: 52,
    meanW: 1.8,
    x: [-53800, 53830], y: [17427.3, 17485.8], step: 10, dec: 0, major: null,
    mean: pztMean, edgeT: pztEdgeT, edgeY: pztEdgeY }
];

Chart.defaults.font.family = "'DejaVu Sans', sans-serif";
Chart.defaults.font.size = 13;
Chart.defaults.color = '#9c9c9c';

const panelTitle = {
  id: 'panelTitle',
  afterDraw(chart, args, opts) {
    const { ctx, chartArea } = chart;
    ctx.save();
    ctx.font = "15px 'DejaVu Sans', sans-serif";
    ctx.fillStyle = '#a9a9a9';
    ctx.textAlign = 'center';
    ctx.textBaseline = 'middle';
    ctx.fillText(opts.text, (chartArea.left + chartArea.right) / 2, chartArea.top - 15);
    ctx.restore();
  }
};

function onGrid(ys) { return tGrid.map((t, i) => ({ x: t, y: ys[i] })); }
function poly(ts, ys) { return ts.map((t, i) => ({ x: t, y: ys[i] })); }
function vlines(ts, from, to) {
  const pts = [];
  ts.forEach((t, i) => { pts.push({ x: t, y: from[i] }, { x: t, y: to[i] }, { x: t, y: null }); });
  return pts;
}
function rgba(hex, a) {
  const n = parseInt(hex.slice(1), 16);
  return `rgba(${(n >> 16) & 255},${(n >> 8) & 255},${n & 255},${a})`;
}
function line(data, color, width, dash, join) {
  return { data, borderColor: color, borderWidth: width, borderDash: dash || [],
           borderJoinStyle: join || 'round', pointRadius: 0, fill: false, spanGaps: false, tension: 0 };
}

panels.forEach(p => {
  const thinBand = rgba(p.color, 0.6);
  const thickBand = rgba(p.color, p.bandA || 0.5);
  const mw = p.meanW;
  const ds = [line(onGrid(p.mean), p.color, mw)];
  if (p.edgeT) ds.push(line(poly(p.edgeT, p.edgeY), p.color, Math.min(mw, 2.2)));
  if (p.solidT) ds.push(line(vlines(p.solidT, p.solidFrom, p.solidTo), p.color, 1.3));
  if (p.max) ds.push(line(onGrid(p.max), thickBand, p.bandW, [1.5, 2], 'bevel'));
  if (p.min) ds.push(line(onGrid(p.min), thickBand, p.bandW, [1.5, 2], 'bevel'));
  if (p.bandT) ds.push(line(poly(p.bandT, p.bandY), thinBand, 1.2, [3, 2]));
  if (p.dashT) ds.push(line(vlines(p.dashT, p.dashFrom, p.dashTo), thinBand, 1, [3, 2]));

  const cv = document.createElement('canvas');
  const w = colWidth[p.col];
  cv.width = w; cv.height = panelH;
  cv.style.cssText = `position:absolute;left:${colLeft[p.col]}px;top:${rowTop[p.row]}px;width:${w}px;height:${panelH}px;`;
  document.body.appendChild(cv);

  new Chart(cv, {
    type: 'line',
    data: { datasets: ds },
    options: {
      responsive: false, animation: false, devicePixelRatio: 1, events: [],
      layout: { padding: { top: 34, right: 6, left: 0, bottom: 0 } },
      plugins: { legend: { display: false }, tooltip: { enabled: false }, panelTitle: { text: p.title } },
      scales: {
        x: {
          type: 'linear', min: p.x[0], max: p.x[1],
          afterFit: s => { s.height = 30; },
          border: { color: '#b4b4b4', width: 1 },
          grid: { color: 'rgba(255,255,255,0.075)', drawTicks: false },
          ticks: { stepSize: 10000, autoSkip: false, maxRotation: 0, includeBounds: false, padding: 5,
                   callback: v => (v % 20000 === 0 ? String(v) : '') }
        },
        y: {
          min: p.y[0], max: p.y[1],
          afterFit: s => { s.width = p.axisW; },
          border: { color: '#8c8c8c', width: 1 },
          grid: { drawTicks: false,
                  color: c => {
                    if (p.major === null) return 'rgba(255,255,255,0.15)';
                    return (c.tick && Math.abs(c.tick.value - p.major) < p.step / 100)
                      ? 'rgba(255,255,255,0.24)' : 'rgba(255,255,255,0.1)';
                  } },
          ticks: { stepSize: p.step, includeBounds: false, autoSkip: false, padding: 5,
                   callback: v => parseFloat(v.toFixed(p.dec)).toString() }
        }
      }
    },
    plugins: [panelTitle]
  });
});
</script>
</body>
</html>
